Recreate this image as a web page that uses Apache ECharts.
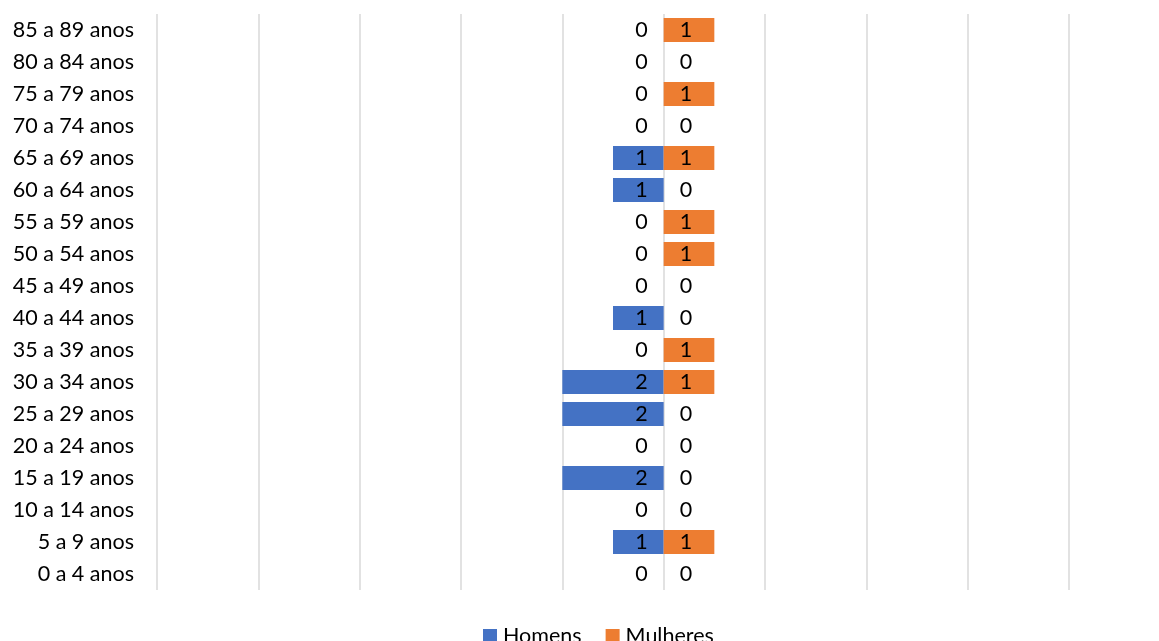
<!DOCTYPE html>
<html><head><meta charset="utf-8">
<script src="https://cdn.jsdelivr.net/npm/echarts@6/dist/echarts.min.js"></script>
<style>html,body{margin:0;padding:0;background:#fff}#c{width:1159px;height:641px}</style>
</head><body><div id="c"></div>
<script>
const categories = ['0 a 4 anos','5 a 9 anos','10 a 14 anos','15 a 19 anos','20 a 24 anos','25 a 29 anos','30 a 34 anos','35 a 39 anos','40 a 44 anos','45 a 49 anos','50 a 54 anos','55 a 59 anos','60 a 64 anos','65 a 69 anos','70 a 74 anos','75 a 79 anos','80 a 84 anos','85 a 89 anos'];
const homens = [0,1,0,2,0,2,2,0,1,0,0,0,1,1,0,0,0,0];
const mulheres = [0,1,0,0,0,0,1,1,0,0,1,1,0,1,0,1,0,1];
const FONT = 'Lato';
const FS = 21.5;
const chart = echarts.init(document.getElementById('c'));
chart.setOption({
  animation:false,
  textStyle:{fontFamily:FONT},
  grid:{left:157,right:90,top:14,bottom:51,containLabel:false},
  legend:{top:625,left:483,padding:0,itemWidth:14,itemHeight:14,itemGap:24,
    icon:'rect',textStyle:{fontFamily:FONT,fontSize:FS,color:'#000',padding:[0,0,0,1]},
    data:['Homens','Mulheres']},
  xAxis:{type:'value',min:-10,max:8,interval:2,
    axisLabel:{show:false},axisLine:{show:false},axisTick:{show:false},
    splitLine:{show:true,lineStyle:{color:'#d9d9d9',width:1.5}}},
  yAxis:{type:'category',data:categories,
    axisLine:{show:false},axisTick:{show:false},
    axisLabel:{fontFamily:FONT,fontSize:FS,color:'#000',margin:23}},
  series:[
    {name:'Homens',type:'bar',data:homens.map(v=>-v),barWidth:'75%',barGap:'-100%',
     itemStyle:{color:'#4472C4'},
     label:{show:true,position:'insideRight',distance:16,fontFamily:FONT,fontSize:FS,color:'#000',
       formatter:p=>Math.abs(p.value)}},
    {name:'Mulheres',type:'bar',data:mulheres,barWidth:'75%',barGap:'-100%',
     itemStyle:{color:'#ED7D31'},
     label:{show:true,position:'insideLeft',distance:16,fontFamily:FONT,fontSize:FS,color:'#000'}}
  ]
});
</script></body></html>
